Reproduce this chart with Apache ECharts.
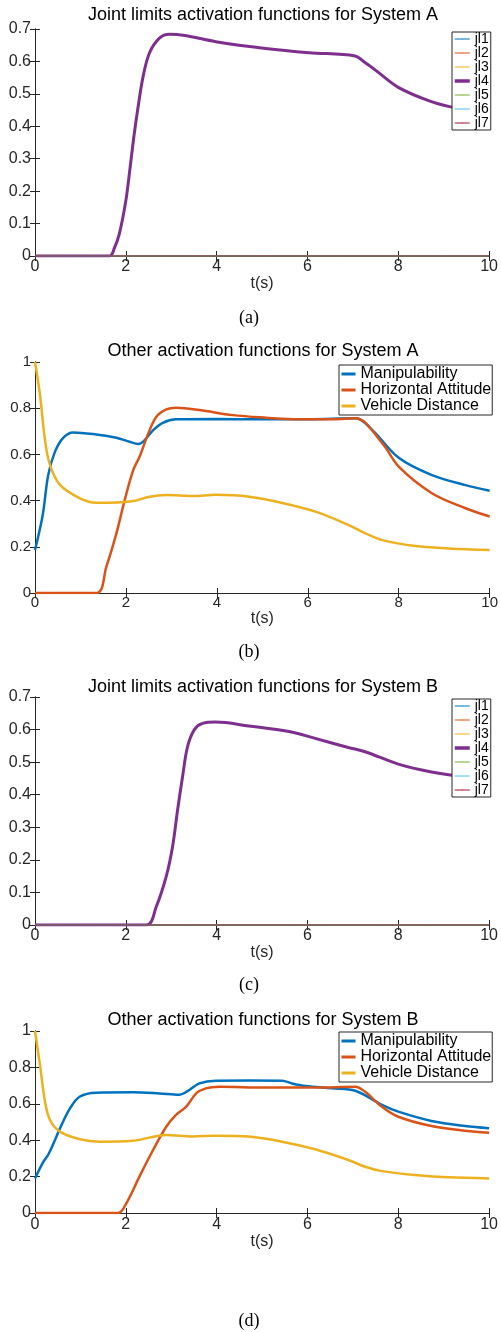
<!DOCTYPE html>
<html>
<head>
<meta charset="utf-8">
<title>Activation functions</title>
<script src="https://cdn.jsdelivr.net/npm/echarts@6/dist/echarts.min.js"></script>
<style>body{margin:0;background:#fff;}</style>
</head>
<body>
<div id="main" style="width:501px;height:1332px;"></div>
<script type="text/javascript">
// flat joint limit functions (jl1..jl3, jl5..jl7)
var zeroT = [0, 10];
var zeroV = [0, 0];

// (a) jl4, System A
var tA4 = [0, 1.64, 1.75, 1.86, 2.0, 2.08, 2.17, 2.26, 2.38, 2.52, 2.74, 2.96, 3.3, 3.98, 5.08, 6.03, 7.05, 7.25, 7.49, 8.0, 8.73, 9.32, 10];
var vA4 = [0, 0, 0.025, 0.07, 0.17, 0.256, 0.36, 0.45, 0.553, 0.626, 0.672, 0.684, 0.68, 0.661, 0.64, 0.627, 0.617, 0.598, 0.574, 0.52, 0.476, 0.455, 0.443];

// (b) System A
var tBm = [0, 0.17, 0.29, 0.44, 0.62, 0.84, 1.35, 1.79, 2.08, 2.27, 2.38, 2.6, 2.81, 3.1, 4, 5, 6, 7.05, 7.42, 8.0, 8.73, 9.47, 10];
var vBm = [0.186, 0.338, 0.51, 0.612, 0.672, 0.695, 0.686, 0.672, 0.655, 0.645, 0.655, 0.705, 0.737, 0.752, 0.753, 0.752, 0.752, 0.756, 0.705, 0.585, 0.51, 0.467, 0.443];
var tBh = [0, 1.35, 1.57, 1.79, 1.97, 2.16, 2.3, 2.49, 2.67, 2.89, 3.1, 3.62, 4.35, 5.08, 5.81, 6.54, 7.05, 7.64, 8.0, 8.73, 9.47, 10];
var vBh = [0, 0, 0.114, 0.258, 0.4, 0.532, 0.59, 0.69, 0.763, 0.795, 0.802, 0.792, 0.77, 0.759, 0.752, 0.752, 0.756, 0.648, 0.547, 0.432, 0.367, 0.331];
var tBv = [0, 0.11, 0.22, 0.33, 0.55, 0.99, 1.35, 1.79, 2.16, 2.52, 2.89, 3.47, 3.98, 4.71, 5.44, 6.17, 6.9, 7.27, 7.64, 8.37, 9.1, 10];
var vBv = [1.0, 0.857, 0.662, 0.554, 0.468, 0.41, 0.391, 0.392, 0.398, 0.417, 0.424, 0.42, 0.425, 0.417, 0.39, 0.352, 0.294, 0.258, 0.229, 0.203, 0.193, 0.186];

// (c) jl4, System B
var tC4 = [0, 2.45, 2.67, 2.89, 3.03, 3.14, 3.25, 3.36, 3.51, 3.69, 3.98, 4.71, 5.59, 6.17, 6.9, 7.27, 8.0, 8.73, 9.47, 10];
var vC4 = [0, 0, 0.056, 0.149, 0.241, 0.353, 0.456, 0.548, 0.6, 0.619, 0.623, 0.611, 0.594, 0.573, 0.545, 0.532, 0.494, 0.47, 0.455, 0.45];

// (d) System B
var tDm = [0, 0.18, 0.29, 0.42, 0.55, 0.77, 0.99, 1.35, 2.16, 2.74, 3.18, 3.36, 3.62, 3.98, 4.71, 5.44, 5.66, 5.96, 6.54, 7.05, 7.64, 8.0, 8.73, 9.47, 10];
var vDm = [0.19, 0.28, 0.32, 0.39, 0.465, 0.575, 0.64, 0.661, 0.663, 0.657, 0.65, 0.67, 0.712, 0.727, 0.728, 0.727, 0.712, 0.698, 0.685, 0.672, 0.594, 0.557, 0.506, 0.478, 0.466];
var tDh = [0, 1.83, 2.01, 2.3, 2.6, 2.89, 3.1, 3.33, 3.55, 3.76, 4.06, 5.08, 6.17, 7.05, 7.27, 7.64, 8.0, 8.73, 9.47, 10];
var vDh = [0, 0, 0.053, 0.2, 0.346, 0.474, 0.538, 0.584, 0.657, 0.685, 0.694, 0.689, 0.689, 0.694, 0.666, 0.584, 0.529, 0.478, 0.452, 0.441];
var tDv = [0, 0.11, 0.22, 0.33, 0.55, 0.99, 1.43, 2.16, 2.89, 3.47, 3.98, 4.71, 5.44, 6.17, 6.9, 7.27, 7.64, 8.37, 9.1, 10];
var vDv = [1.0, 0.813, 0.612, 0.511, 0.447, 0.405, 0.392, 0.397, 0.429, 0.42, 0.425, 0.42, 0.392, 0.35, 0.291, 0.254, 0.23, 0.209, 0.196, 0.19];

var jlNames = ['jl1', 'jl2', 'jl3', 'jl4', 'jl5', 'jl6', 'jl7'];
var otherNames = ['Manipulability', 'Horizontal Attitude', 'Vehicle Distance'];
var colors = ['#0072BD', '#D95319', '#EDB120', '#7E2F8E', '#77AC30', '#4DBEEE', '#A2142F'];

var FONT = '"Liberation Sans", Arial, Helvetica, sans-serif';
var INK = '#262626';

function zip(t, v) {
    var out = [];
    for (var i = 0; i < t.length; i++) out.push([t[i], v[i]]);
    return out;
}

// layout of the four panels
var panels = [
    {top: 29, h: 227, ymax: 0.7, yint: 0.1, fs: 16, lm: 3, ng: 19, titleY: 15, capY: 318,
     title: 'Joint limits activation functions for System A', cap: '(a)'},
    {top: 362, h: 231, ymax: 1, yint: 0.2, fs: 15, lm: 2, ng: 11, titleY: 351, capY: 652,
     title: 'Other activation functions for System A', cap: '(b)'},
    {top: 697, h: 228, ymax: 0.7, yint: 0.1, fs: 16, lm: 3, ng: 10, titleY: 687, capY: 985,
     title: 'Joint limits activation functions for System B', cap: '(c)'},
    {top: 1031, h: 182, ymax: 1, yint: 0.2, fs: 16, lm: 4, ng: 20, titleY: 1020, capY: 1321,
     title: 'Other activation functions for System B', cap: '(d)'}
];

var grid = [], xAxis = [], yAxis = [], graphic = [];
panels.forEach(function (p, i) {
    grid.push({left: 35, top: p.top, width: 456, height: p.h, show: false});
    var axLine = {show: true, lineStyle: {color: INK, width: 1}};
    var tick = {show: true, inside: true, length: 5, lineStyle: {color: INK, width: 1}};
    xAxis.push({
        type: 'value', gridIndex: i, position: 'bottom', min: 0, max: 10, interval: 2,
        axisLine: axLine, axisTick: tick, splitLine: {show: false},
        axisLabel: {color: INK, fontSize: p.fs, fontFamily: FONT, margin: p.lm},
        name: 't(s)', nameLocation: 'middle', nameGap: p.ng,
        nameTextStyle: {color: INK, fontSize: 16, fontFamily: FONT}
    });
    xAxis.push({
        type: 'value', gridIndex: i, position: 'top', min: 0, max: 10, interval: 2,
        axisLine: axLine, axisTick: tick, splitLine: {show: false}, axisLabel: {show: false}
    });
    yAxis.push({
        type: 'value', gridIndex: i, position: 'left', min: 0, max: p.ymax, interval: p.yint,
        axisLine: axLine, axisTick: tick, splitLine: {show: false},
        axisLabel: {color: INK, fontSize: p.fs, fontFamily: FONT, margin: 4}
    });
    yAxis.push({
        type: 'value', gridIndex: i, position: 'right', min: 0, max: p.ymax, interval: p.yint,
        axisLine: axLine, axisTick: tick, splitLine: {show: false}, axisLabel: {show: false}
    });
    graphic.push({type: 'text', x: 263, y: p.titleY, silent: true,
        style: {text: p.title, font: '18px ' + FONT, fill: '#000', align: 'center', verticalAlign: 'middle'}});
    graphic.push({type: 'text', x: 249, y: p.capY, silent: true,
        style: {text: p.cap, font: '18px "Liberation Serif", "Times New Roman", serif', fill: '#000', align: 'center', verticalAlign: 'middle'}});
});

function line(name, color, width, data, idx) {
    return {
        type: 'line', name: name, data: data, xAxisIndex: idx * 2, yAxisIndex: idx * 2,
        symbol: 'none', smooth: 0.35, color: color,
        lineStyle: {color: color, width: width}, itemStyle: {color: color},
        animation: false
    };
}

var series = [];
// (a) and (c): joint limits
[[tA4, vA4, 0], [tC4, vC4, 2]].forEach(function (set) {
    jlNames.forEach(function (n, k) {
        if (k === 3) series.push(line(n, colors[k], 3, zip(set[0], set[1]), set[2]));
        else series.push(line(n, colors[k], 1, zip(zeroT, zeroV), set[2]));
    });
});
// (b) and (d): other activation functions
series.push(line(otherNames[0], colors[0], 2.5, zip(tBm, vBm), 1));
series.push(line(otherNames[1], colors[1], 2.5, zip(tBh, vBh), 1));
series.push(line(otherNames[2], colors[2], 2.5, zip(tBv, vBv), 1));
series.push(line(otherNames[0], colors[0], 2.5, zip(tDm, vDm), 3));
series.push(line(otherNames[1], colors[1], 2.5, zip(tDh, vDh), 3));
series.push(line(otherNames[2], colors[2], 2.5, zip(tDv, vDv), 3));

// itemHeight kept tiny so the legend shows only the line, not a marker
function jlLegend(top) {
    return {
        data: jlNames.map(function (n) {
            return {name: n, lineStyle: {width: n === 'jl4' ? 3.5 : 1}};
        }),
        orient: 'vertical', left: 452, top: top,
        itemWidth: 15, itemHeight: 1, itemGap: 0, padding: [0, 2, 0, 1],
        borderColor: INK, borderWidth: 1, backgroundColor: '#fff',
        textStyle: {color: '#000', fontSize: 14, lineHeight: 13.8, fontFamily: FONT}
    };
}
function otherLegend(top) {
    return {
        data: otherNames.map(function (n) {
            return {name: n, lineStyle: {width: 3}};
        }),
        orient: 'vertical', left: 339, top: top,
        itemWidth: 14, itemHeight: 1, itemGap: 0, padding: [1, 1, 1, 1],
        borderColor: INK, borderWidth: 1, backgroundColor: '#fff',
        textStyle: {color: '#000', fontSize: 16, lineHeight: 15.6, fontFamily: FONT}
    };
}

var myChart = echarts.init(document.getElementById('main'));
myChart.setOption({
    backgroundColor: '#fff',
    animation: false,
    grid: grid,
    xAxis: xAxis,
    yAxis: yAxis,
    legend: [jlLegend(32), otherLegend(365), jlLegend(699), otherLegend(1032)],
    graphic: graphic,
    series: series
});
</script>
</body>
</html>
